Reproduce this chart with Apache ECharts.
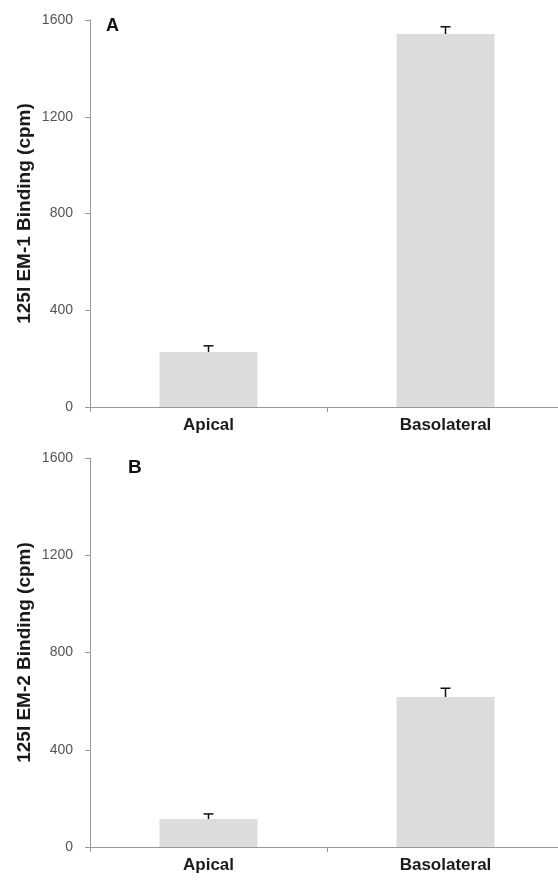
<!DOCTYPE html>
<html>
<head>
<meta charset="utf-8">
<script src="https://cdn.jsdelivr.net/npm/echarts@6/dist/echarts.min.js"></script>
<style>
  html, body { margin: 0; padding: 0; background: #fff; }
  #chart { width: 558px; height: 882px; }
</style>
</head>
<body>
<div id="chart"></div>
<script>
var categories = ["Apical", "Basolateral"];
var em1Values = [227, 1542];
var em1Errors = [26, 30];
var em2Values = [115, 617];
var em2Errors = [21, 36];
var yTicks = [0, 400, 800, 1200, 1600];

var chart = echarts.init(document.getElementById("chart"));

// error whisker: only the upper half, with a cap
function errorItem(values, errors) {
  return function (params, api) {
    var i = api.value(0);
    var base = api.coord([i, values[i]]);
    var top = api.coord([i, values[i] + errors[i]]);
    var half = 5;
    return {
      type: "group",
      children: [
        { type: "line", shape: { x1: base[0], y1: base[1], x2: top[0], y2: top[1] }, style: { stroke: "#111", lineWidth: 1.5 } },
        { type: "line", shape: { x1: top[0] - half, y1: top[1], x2: top[0] + half, y2: top[1] }, style: { stroke: "#111", lineWidth: 1.5 } }
      ]
    };
  };
}

function xAxisOf(idx) {
  return {
    type: "category",
    gridIndex: idx,
    data: categories,
    axisLine: { lineStyle: { color: "#999", width: 1 } },
    axisTick: { show: true, length: 5, lineStyle: { color: "#999" } },
    axisLabel: { color: "#1a1a1a", fontSize: 17, fontWeight: "bold", fontFamily: "Liberation Sans", margin: 10 }
  };
}

function yAxisOf(idx, name) {
  return {
    type: "value",
    gridIndex: idx,
    min: yTicks[0],
    max: yTicks[yTicks.length - 1],
    interval: 400,
    name: name,
    nameLocation: "middle",
    nameGap: 56,
    nameMoveOverlap: false,
    nameTextStyle: { color: "#1a1a1a", fontSize: 19, fontWeight: "bold", fontFamily: "Liberation Sans" },
    axisLine: { show: true, lineStyle: { color: "#999", width: 1 } },
    axisTick: { show: true, length: 5, lineStyle: { color: "#999" } },
    axisLabel: {
      color: "#555", fontSize: 14, fontFamily: "Liberation Sans", margin: 17,
      formatter: function (v) { return String(v); }
    },
    splitLine: { show: false }
  };
}

var option = {
  backgroundColor: "#fff",
  animation: false,
  title: [
    { text: "A", left: 101, top: 12, textStyle: { fontSize: 18, fontWeight: "bold", color: "#111", fontFamily: "Liberation Sans" } },
    { text: "B", left: 123, top: 453, textStyle: { fontSize: 19, fontWeight: "bold", color: "#111", fontFamily: "Liberation Sans" } }
  ],
  grid: [
    { left: 90, width: 474, top: 20, height: 387, outerBoundsMode: "none" },
    { left: 90, width: 474, top: 458, height: 389, outerBoundsMode: "none" }
  ],
  xAxis: [xAxisOf(0), xAxisOf(1)],
  yAxis: [yAxisOf(0, "125I EM-1 Binding (cpm)"), yAxisOf(1, "125I EM-2 Binding (cpm)")],
  series: [
    {
      type: "bar", xAxisIndex: 0, yAxisIndex: 0, data: em1Values, barWidth: 98,
      itemStyle: { color: "#dcdcdc" }
    },
    {
      type: "custom", xAxisIndex: 0, yAxisIndex: 0, z: 5,
      data: em1Values.map(function (v, i) { return [i, v]; }),
      renderItem: errorItem(em1Values, em1Errors)
    },
    {
      type: "bar", xAxisIndex: 1, yAxisIndex: 1, data: em2Values, barWidth: 98,
      itemStyle: { color: "#dcdcdc" }
    },
    {
      type: "custom", xAxisIndex: 1, yAxisIndex: 1, z: 5,
      data: em2Values.map(function (v, i) { return [i, v]; }),
      renderItem: errorItem(em2Values, em2Errors)
    }
  ]
};

chart.setOption(option);
</script>
</body>
</html>
